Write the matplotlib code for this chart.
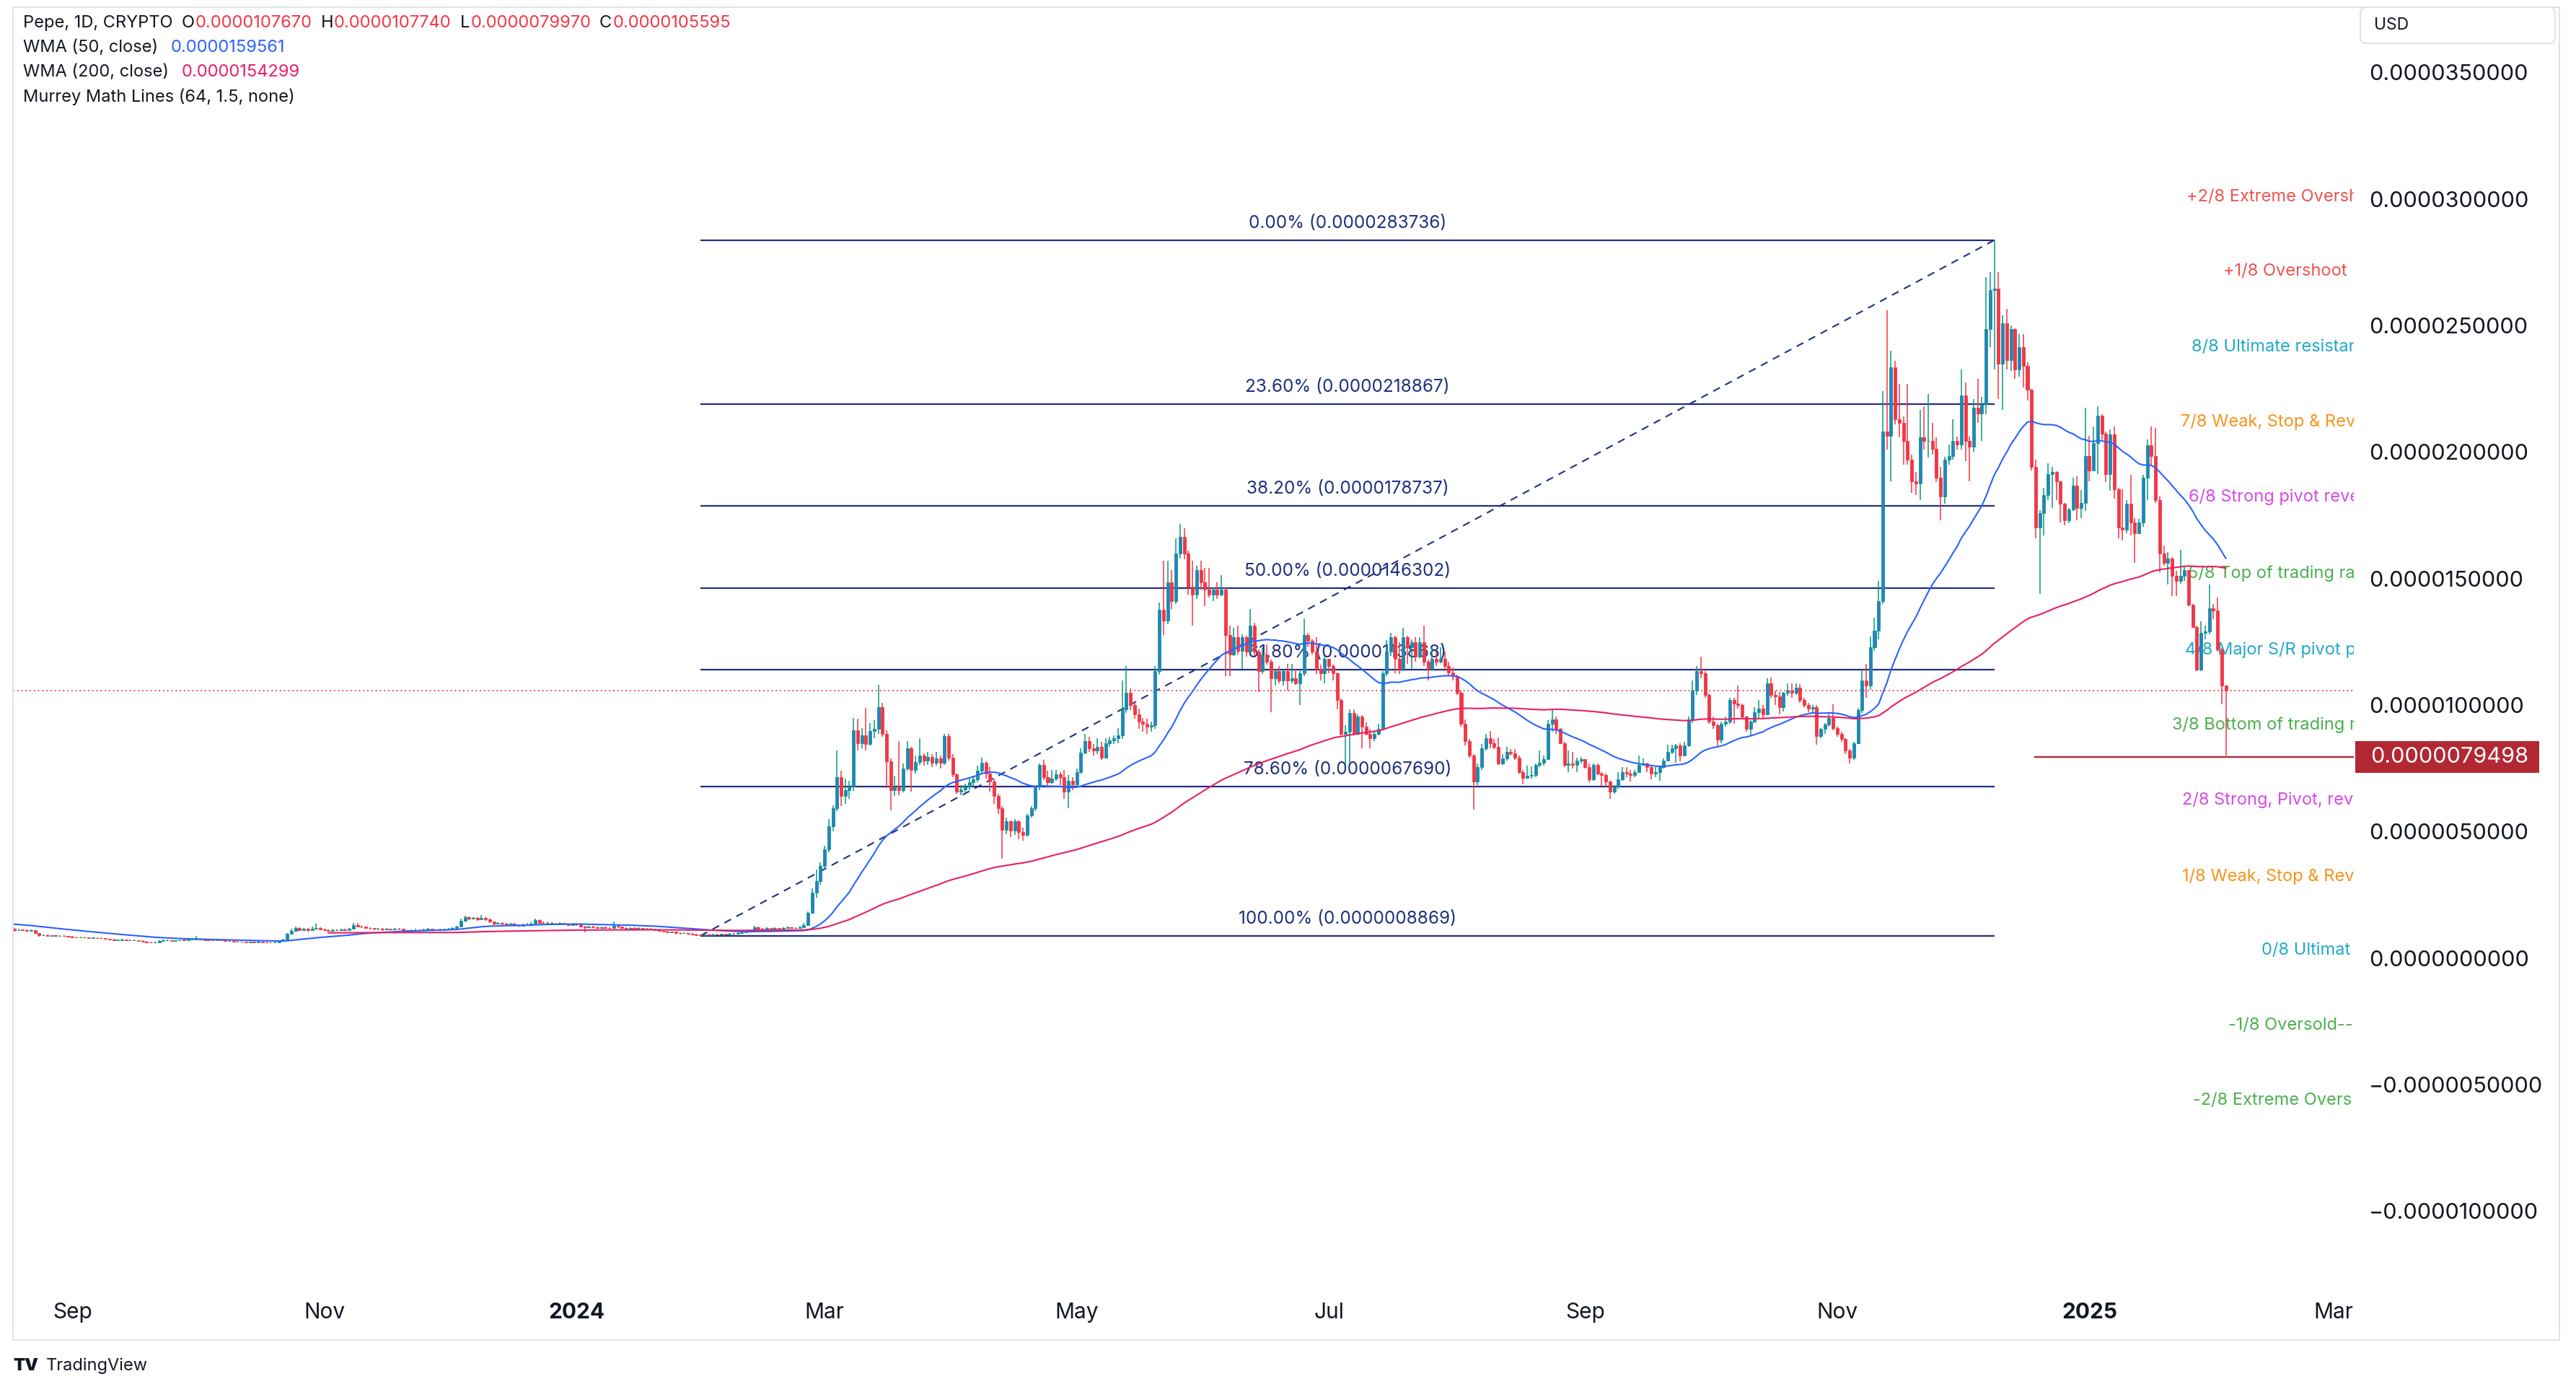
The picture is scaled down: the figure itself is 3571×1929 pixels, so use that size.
import matplotlib
matplotlib.use('Agg')
import matplotlib.pyplot as plt
import matplotlib.dates as mdates
from matplotlib.patches import Rectangle, FancyBboxPatch
from matplotlib.transforms import blended_transform_factory, IdentityTransform
import numpy as np
import pandas as pd

plt.rcParams['font.family'] = ['Inter', 'DejaVu Sans']

W, H = 3571, 1929
UNIT = 1e-7  # every price below is in units of 0.0000001 USD

# daily closes before the visible window (2023-04-17 .. 2023-08-17), they only feed the WMAs
pre_close = [
    1.0, 1.1, 1.3, 1.6, 1.5, 1.8, 2.0, 2.5, 2.9, 2.6, 3.2, 4.0, 4.8, 5.0,
    7.5, 9.0, 12.0, 22.0, 30.0, 26.0, 20.0, 18.0, 19.0, 16.0, 14.0, 15.0, 16.0, 15.0, 16.0, 15.5,
    15.0, 15.5, 14.5, 14.0, 13.5, 13.0, 13.5, 12.5, 12.0, 12.8, 13.0, 13.5, 13.0, 12.5, 12.0,
    11.8, 11.5, 11.8, 11.5, 10.5, 10.8, 10.0, 9.5, 8.5, 7.5, 7.8, 7.5, 7.2, 7.0, 6.8,
    7.2, 7.5, 7.8, 7.5, 8.0, 9.0, 9.5, 9.8, 10.0, 10.5, 10.8, 11.5, 12.0, 13.0, 14.5,
    16.5, 17.5, 18.0, 17.5, 17.0, 16.5, 16.0, 16.5, 16.2, 15.8, 16.0, 17.0, 17.5, 16.8, 16.5,
    16.8, 16.0, 15.8, 15.5, 15.2, 15.0, 14.8, 14.5, 14.0, 14.2, 14.5, 14.0, 13.8, 14.0, 14.2, 13.8,
    13.5, 13.2, 12.8, 13.0, 12.8, 12.5, 12.6, 12.8, 12.5, 12.2, 12.0, 12.2, 12.0, 11.8, 11.5, 11.5, 11.2,
]

# visible daily candles 2023-08-18 .. 2025-02-03, open = previous close
first_open = 11.5
close_ = [
    # Aug 2023 (18-31)
    11.0, 11.2, 11.1, 10.9, 11.0, 9.8, 9.0, 9.1, 8.9, 9.0, 8.8, 8.9, 8.7, 8.6,
    # Sep
    8.3, 8.2, 8.3, 8.1, 8.0, 8.0, 7.9, 7.8, 7.6, 7.4, 7.1, 7.2, 7.3, 7.1, 7.0,
    7.1, 6.9, 6.6, 6.3, 6.2, 6.3, 6.8, 7.0, 7.1, 6.9, 7.0, 7.2, 7.1, 7.3, 7.4,
    # Oct
    7.6, 7.3, 7.2, 7.1, 7.0, 7.1, 7.0, 6.9, 6.7, 6.6, 6.5, 6.4, 6.3, 6.4, 6.3,
    6.5, 6.3, 6.2, 6.1, 6.3, 6.8, 7.4, 9.6, 10.8, 11.8, 11.2, 11.5, 11.0, 11.6, 12.0, 11.4,
    # Nov
    11.1, 10.9, 11.2, 11.0, 11.4, 11.2, 11.6, 13.2, 12.6, 12.4, 12.0, 11.8, 11.5, 11.6, 11.3,
    11.5, 11.4, 11.7, 11.5, 11.0, 10.6, 11.0, 11.2, 11.0, 11.3, 11.5, 11.2, 11.0, 11.2, 11.4,
    # Dec
    11.6, 12.0, 12.4, 14.8, 16.2, 15.6, 15.9, 15.4, 16.0, 15.3, 14.4, 13.6, 13.9, 13.5, 13.2,
    13.6, 13.0, 12.8, 13.1, 13.4, 13.7, 15.0, 14.0, 13.8, 14.0, 13.6, 13.4, 13.8, 13.5, 13.2, 13.5,
    # Jan 2024
    13.3, 12.6, 12.1, 12.4, 12.2, 11.9, 12.3, 12.0, 11.8, 12.8, 12.4, 12.0, 11.7, 11.9, 11.6,
    11.8, 11.5, 11.7, 11.4, 11.0, 10.8, 10.5, 10.2, 10.4, 10.0, 9.8, 9.9, 9.6, 9.4, 9.2, 9.1,
    # Feb
    9.3, 9.2, 9.4, 9.3, 9.5, 9.4, 9.6, 9.5, 9.9, 10.3, 10.8, 11.0, 12.3, 11.6, 11.4,
    11.8, 11.5, 11.9, 11.6, 11.8, 12.1, 11.8, 12.0, 12.3, 13.2, 18.0, 26.0, 30.5, 36.4,
    # Mar
    43.1, 52.0, 59.2, 71.6, 64.0, 66.5, 67.8, 90.1, 85.0, 88.0, 84.5, 89.7, 90.5, 99.2, 88.7,
    77.8, 66.5, 67.8, 66.5, 75.0, 83.0, 74.5, 77.5, 80.2, 78.0, 79.5, 77.3, 79.0, 77.3, 87.8, 79.2,
    # Apr
    72.6, 65.9, 66.8, 67.8, 69.5, 70.6, 74.0, 77.3, 73.0, 69.7, 64.0, 59.2, 50.7, 54.0, 50.5,
    54.0, 49.8, 48.8, 56.4, 59.2, 67.8, 76.3, 71.6, 69.5, 71.0, 72.6, 71.5, 65.9, 70.0, 68.7,
    # May
    73.5, 81.1, 85.9, 83.0, 82.0, 83.5, 79.2, 84.9, 86.0, 86.8, 88.0, 98.2, 104.9, 100.1, 96.3,
    93.5, 92.5, 91.6, 92.0, 113.4, 137.6, 133.4, 148.6, 141.0, 160.0, 166.6, 160.0, 146.7, 143.8, 153.3, 148.6,
    # Jun
    145.7, 143.8, 145.7, 143.8, 145.7, 127.7, 120.0, 126.7, 121.5, 126.7, 121.0, 131.5, 121.0, 113.4, 120.0,
    117.2, 110.6, 113.4, 109.6, 113.4, 109.6, 110.5, 108.7, 112.5, 127.7, 125.3, 121.0, 114.4, 112.5, 118.2,
    # Jul
    115.3, 112.5, 102.0, 88.7, 89.5, 96.8, 88.7, 95.4, 91.5, 88.7, 86.8, 88.7, 90.6, 112.5, 121.0,
    126.7, 118.2, 114.4, 126.7, 122.9, 124.8, 119.1, 124.8, 117.2, 114.4, 118.2, 117.2, 118.2, 115.3, 113.0, 111.5,
    # Aug
    104.9, 92.5, 85.8, 80.1, 69.7, 75.4, 83.0, 86.8, 84.9, 83.5, 76.8, 79.0, 81.6, 81.0, 79.2,
    73.5, 71.1, 72.0, 72.5, 76.3, 77.3, 78.7, 92.5, 94.4, 90.6, 84.9, 76.3, 76.8, 76.5, 78.2, 78.7,
    # Sep
    75.4, 70.6, 76.3, 73.0, 72.5, 69.7, 65.9, 67.8, 70.6, 73.5, 73.0, 72.5, 73.5, 76.3, 76.8,
    75.4, 73.0, 73.5, 75.4, 78.2, 81.6, 83.0, 84.0, 80.2, 84.0, 94.4, 105.8, 113.4, 112.5, 104.0,
    # Oct
    93.5, 92.0, 86.3, 92.5, 93.5, 102.0, 100.5, 100.1, 95.4, 90.6, 93.5, 97.3, 98.7, 96.3, 108.7,
    104.0, 103.5, 99.2, 104.9, 105.8, 104.9, 106.8, 102.0, 100.1, 98.7, 99.2, 87.8, 90.6, 92.3, 95.0, 90.8,
    # Nov
    88.6, 86.5, 82.0, 79.2, 85.0, 98.0, 109.7, 107.6, 122.8, 129.4, 141.0, 208.0, 206.5, 233.4, 213.0,
    211.6, 204.3, 197.0, 188.3, 187.6, 205.8, 204.3, 204.3, 201.4, 189.8, 182.5, 197.0, 198.5, 204.3, 203.0,
    # Dec
    222.5, 204.3, 202.0, 217.4, 215.2, 219.0, 248.7, 264.0, 264.7, 234.9, 250.9, 236.3, 248.5, 232.7, 241.4,
    234.1, 224.7, 194.1, 170.1, 176.0, 183.0, 191.2, 192.0, 188.3, 179.6, 173.0, 177.4, 186.8, 178.0, 180.0, 198.5,
    # Jan 2025
    192.7, 203.6, 214.5, 207.2, 191.2, 207.0, 185.4, 170.1, 169.4, 179.6, 172.3, 168.0, 172.3, 189.8, 202.8,
    198.5, 181.0, 160.0, 156.3, 157.8, 151.2, 149.0, 151.0, 153.4, 139.6, 130.8, 114.1, 128.6, 129.0, 138.1, 137.5,
    # Feb 1-3
    122.1, 107.67, 105.595,
]
high_ = [
    11.8, 11.5, 11.4, 11.3, 11.3, 11.1, 9.9, 9.4, 9.3, 9.2, 9.1, 9.2, 9.0, 8.9,
    8.7, 8.5, 8.5, 8.4, 8.3, 8.2, 8.2, 8.1, 7.9, 7.7, 7.5, 7.4, 7.5, 7.4, 7.3,
    7.3, 7.2, 7.0, 6.7, 6.5, 6.5, 7.0, 7.3, 7.3, 7.2, 7.2, 7.4, 7.3, 7.5, 7.6,
    8.9, 7.7, 7.4, 7.3, 7.3, 7.3, 7.2, 7.1, 7.0, 6.8, 6.7, 6.6, 6.5, 6.6, 6.5,
    6.7, 6.6, 6.4, 6.3, 6.5, 7.0, 7.7, 10.0, 11.5, 12.5, 12.2, 12.0, 11.8, 12.4, 13.6, 12.3,
    11.7, 11.4, 11.5, 11.4, 11.7, 11.6, 12.0, 14.0, 13.9, 12.9, 12.6, 12.3, 12.0, 11.9, 11.8,
    11.8, 11.7, 12.0, 11.9, 11.6, 11.1, 11.3, 11.5, 11.4, 11.6, 11.8, 11.7, 11.4, 11.5, 11.7,
    12.0, 12.3, 12.8, 15.5, 16.8, 16.5, 16.3, 16.1, 17.1, 16.2, 15.5, 14.6, 14.3, 14.1, 13.8,
    14.0, 13.8, 13.3, 13.5, 13.8, 14.2, 15.6, 15.2, 14.4, 14.5, 14.2, 13.9, 14.1, 14.0, 13.7, 13.8,
    13.9, 13.5, 12.8, 12.8, 12.7, 12.4, 12.6, 12.5, 12.2, 14.6, 13.2, 12.6, 12.2, 12.3, 12.1,
    12.1, 11.9, 12.0, 11.8, 11.5, 11.2, 10.9, 10.7, 10.6, 10.5, 10.2, 10.2, 10.0, 9.8, 9.6, 9.4,
    9.5, 9.5, 9.6, 9.6, 9.7, 9.7, 9.8, 9.8, 10.2, 10.6, 11.1, 11.3, 12.8, 12.5, 11.9,
    12.1, 12.0, 12.2, 12.0, 12.2, 12.4, 12.3, 12.3, 12.7, 13.8, 18.6, 27.5, 35.0, 38.0,
    44.5, 55, 60.5, 82, 74, 71, 70, 94.9, 94.5, 91, 99, 93, 94, 107.9, 101,
    90, 79, 72, 85.9, 77, 85.9, 83.5, 80, 86.8, 81, 81.5, 80.5, 81.5, 80, 88.5, 88.5,
    80.5, 73, 68.5, 69, 71, 72, 76, 79.2, 77.8, 75.4, 71, 65, 60, 55.5, 54.5,
    55, 54.5, 51.6, 57, 60, 68, 77, 78.3, 74, 74.5, 74.5, 73.5, 74.5, 72.5, 71.5,
    75, 83, 88.7, 87.5, 84.5, 86.8, 85.5, 86.8, 87.5, 88, 91, 109.6, 115.3, 106.5, 101.5,
    98.5, 95, 94.5, 93.5, 115.5, 140.5, 157, 157, 153.3, 165.8, 171.6, 170, 161, 157, 155, 157,
    154.3, 154.3, 146.5, 148.6, 151.4, 146.5, 131.5, 130.5, 131.5, 128, 127.5, 138, 132.4, 122, 122.9,
    123.9, 118, 114.4, 115.3, 114, 116.3, 116.3, 114.4, 113.5, 134.3, 128.5, 126, 126.7, 116, 119.1,
    118.2, 116, 113, 102.5, 92, 98.2, 98.2, 96.3, 96, 93.3, 90.6, 89.5, 92.5, 113.4, 125.8,
    128.6, 127.5, 124.8, 130.5, 127.5, 126, 126.7, 126.7, 131.5, 118, 122.9, 121, 122.9, 121, 117.2, 115,
    112, 105.8, 94.4, 86.5, 80.5, 77, 84.5, 88.7, 89.7, 86.5, 87.3, 80.5, 83.5, 82.5, 82.5,
    80, 74.4, 76, 75.8, 77, 82, 80, 94, 98.2, 95.5, 91, 85.5, 82, 81.6, 79.2, 79.5,
    78.2, 76.8, 77, 77, 73.5, 73, 70, 68.5, 73.5, 75.4, 75.4, 74.5, 74.5, 80.1, 79,
    77.3, 76, 75.4, 76, 79, 84.4, 84.4, 84.5, 85, 85.5, 95.5, 109.6, 115.3, 119.1, 113.5,
    104.5, 95.4, 92.5, 93.5, 95.4, 103, 103, 107.7, 100.5, 95.8, 94, 99.2, 102, 100, 110.6,
    111, 105.8, 105.3, 105.3, 108.7, 108.7, 108.7, 108.2, 103, 101, 100, 100, 91, 93, 96.5, 100.3,
    91.5, 89.5, 87, 82.5, 85.5, 99, 114, 116.4, 127, 134.5, 149, 224, 256, 240, 236,
    226.9, 214, 226.9, 199, 192, 216.7, 218, 223, 211.6, 205.8, 194, 198, 203, 213, 206,
    232.7, 227.6, 206, 221, 229, 221.8, 269, 271, 283.736, 271, 254, 256.7, 250, 249, 246.5,
    246.5, 235.6, 225, 197, 177, 186, 195.6, 194, 192.5, 185.4, 180, 178, 189.8, 190.5, 185, 217.4,
    206.5, 210, 218.1, 215, 208, 209, 210, 186, 185.4, 181, 191, 174, 173.5, 191, 205,
    210, 209.5, 182.5, 163, 160.5, 158.5, 153, 161.4, 155, 153.4, 140, 131.5, 133, 131.5, 147.6, 140,
    142.5, 122.5, 107.74,
]
low_ = [
    10.6, 10.8, 10.8, 10.6, 10.7, 9.5, 8.6, 8.8, 8.6, 8.7, 8.5, 8.6, 8.4, 8.3,
    8.1, 8.0, 8.1, 7.9, 7.8, 7.8, 7.7, 7.6, 7.4, 7.1, 6.9, 6.9, 7.0, 6.9, 6.8,
    6.9, 6.7, 6.4, 6.1, 6.0, 6.0, 6.2, 6.7, 6.8, 6.7, 6.8, 6.9, 6.9, 7.0, 7.1,
    7.3, 7.1, 7.0, 6.9, 6.8, 6.9, 6.8, 6.7, 6.5, 6.4, 6.3, 6.2, 6.1, 6.2, 6.1,
    6.2, 6.1, 6.0, 5.9, 6.0, 6.2, 6.7, 7.3, 9.4, 10.5, 10.8, 10.9, 10.6, 10.8, 11.3, 11.0,
    10.7, 10.6, 10.7, 10.7, 10.8, 10.9, 11.0, 11.5, 12.1, 11.9, 11.6, 11.4, 11.1, 11.2, 10.9,
    11.1, 11.0, 11.2, 11.1, 10.6, 10.2, 10.5, 10.8, 10.7, 10.9, 11.1, 10.9, 10.7, 10.9, 11.0,
    11.2, 11.5, 11.9, 12.2, 14.5, 15.0, 15.2, 14.9, 15.2, 14.8, 13.9, 13.1, 13.3, 13.0, 12.8,
    13.0, 12.6, 12.4, 12.6, 12.9, 13.2, 13.5, 13.6, 13.3, 13.5, 13.2, 13.0, 13.2, 13.1, 12.8, 13.0,
    12.9, 12.2, 10.3, 11.8, 11.8, 11.5, 11.7, 11.6, 11.4, 11.7, 11.9, 11.6, 11.3, 11.4, 11.2,
    11.3, 11.1, 11.2, 11.0, 10.7, 10.4, 10.1, 9.8, 9.9, 9.6, 9.4, 9.5, 9.3, 9.1, 9.0, 8.869,
    9.0, 8.9, 9.1, 9.0, 9.2, 9.1, 9.2, 9.2, 9.4, 9.8, 10.2, 10.6, 10.9, 11.2, 11.0,
    11.2, 11.1, 11.3, 11.2, 11.4, 11.6, 11.5, 11.6, 11.8, 12.1, 13.0, 17.5, 24.0, 29.0,
    35, 42, 50, 58, 60, 61, 63, 66, 82, 83, 82, 84, 87, 88.5, 87.5,
    67.3, 58.3, 64, 64.5, 65.5, 74, 65.9, 73, 76.5, 76, 76.5, 75.5, 76, 75, 76.5, 78,
    71.5, 65, 64.5, 65.5, 66.5, 68, 69.5, 73, 71, 65.9, 61, 57, 39.3, 49, 47.8,
    48.8, 46.9, 46.4, 48, 55.5, 58, 66.5, 70.5, 68.5, 69, 70, 68.5, 63, 59.2, 66.5,
    67.5, 73, 80.5, 81.5, 80, 80.5, 78.5, 78.8, 83.5, 84.5, 85, 86.5, 97, 98, 94.5,
    90.6, 89.5, 88.7, 89.5, 90.5, 112, 127.7, 132, 138, 140, 158, 157.5, 143.8, 131.5, 142, 145.7,
    139, 142.5, 141, 141.9, 143, 111.5, 111.5, 119.5, 120, 114.4, 119, 120.5, 119.5, 105.3, 112.4,
    116, 97.3, 107.7, 108.5, 107.7, 105.8, 108.5, 108, 100, 111.5, 123, 120, 112.4, 109.6, 108.7,
    112.5, 109.6, 98.2, 88, 76.3, 77.3, 88, 88, 83, 88, 83, 85.8, 88, 90, 111.5,
    119.5, 112.5, 112.4, 113.5, 116.3, 114.4, 117.2, 118.5, 115.3, 109.6, 114.4, 115.3, 116.5, 113.4, 111.5, 109.6,
    104, 91.5, 84, 79.2, 58.7, 68.5, 74.5, 82, 83, 82.5, 76.3, 76.3, 78, 80, 78.5,
    73, 68.7, 71, 71, 71.5, 75.5, 76, 78.5, 89.5, 88.7, 84.5, 75.5, 73.5, 75, 73.5, 77,
    74.8, 69.5, 70, 72.5, 68.2, 67.8, 63, 65, 67, 70, 71.5, 69.7, 71.5, 73.5, 76.3,
    73.5, 70.6, 71.5, 70.2, 75, 78, 80.5, 77.3, 77.8, 82.5, 83.5, 93, 104, 110.5, 103,
    92.5, 90.5, 83.5, 85, 91.5, 92.5, 92.5, 98.5, 94.5, 89.5, 87.8, 93, 94.5, 94.5, 96,
    103, 100.1, 96.3, 97.5, 103.8, 103, 104, 101, 99.2, 97.3, 96.5, 84.4, 86.8, 88.7, 91.5, 90,
    87.5, 85.5, 80.5, 77, 78.5, 84.5, 97, 103, 106, 121.5, 126, 140, 201, 188.3, 211,
    205.8, 195, 194.9, 184, 183, 181, 201, 197.8, 199, 188, 173, 179.6, 195, 197, 201,
    201, 196.3, 188.3, 200, 211.6, 204.3, 215, 241.4, 232.7, 221, 216.7, 232.7, 232, 229, 229.8,
    225.4, 220.3, 192.7, 165.8, 144, 167, 181, 178, 181, 172.3, 171, 172, 176.7, 173, 174, 176.7,
    188.3, 192.7, 191.2, 205, 188, 184.7, 181.6, 166, 165, 168, 167, 156.3, 167.5, 170.5, 181,
    195, 180, 152.5, 155, 147.6, 143, 143, 148, 149, 139, 130.5, 113.5, 113.5, 126, 128, 134,
    121, 100.3, 79.97,
]
assert len(close_) == len(high_) == len(low_) == 536, (len(close_), len(high_), len(low_))

# Fibonacci retracement drawn by hand
fib_dates = ['2024-01-31', '2024-12-09']
fib_levels = [0.0, 0.236, 0.382, 0.5, 0.618, 0.786, 1.0]
fib_prices = [283.736, 218.867, 178.737, 146.302, 113.868, 67.690, 8.869]

# Murrey Math Lines labels as far as they show before the pane edge
murrey_labels = ['+2/8 Extreme Oversh', '+1/8 Overshoot', '8/8 Ultimate resistan',
                 '7/8 Weak, Stop & Rev', '6/8 Strong pivot reve', '5/8 Top of trading ra',
                 '4/8 Major S/R pivot p', '3/8 Bottom of trading r', '2/8 Strong, Pivot, rev',
                 '1/8 Weak, Stop & Rev', '0/8 Ultimat', '-1/8 Oversold--',
                 '-2/8 Extreme Overs']
murrey_prices = [300.7, 271.5, 241.6, 211.9, 182.3, 152.0, 121.9, 92.2, 62.4, 32.1, 3.2, -26.6, -56.2]

legend_ohlc = [107.670, 107.740, 79.970, 105.595]
wma50_value = 159.561
wma200_value = 154.299
support_price = 79.498

x_tick_dates = ['2023-09-01', '2023-11-01', '2024-01-01', '2024-03-01', '2024-05-01',
                '2024-07-01', '2024-09-01', '2024-11-01', '2025-01-01', '2025-03-01']
x_tick_labels = ['Sep', 'Nov', '2024', 'Mar', 'May', 'Jul', 'Sep', 'Nov', '2025', 'Mar']
y_ticks = [-100, -50, 0, 50, 100, 150, 200, 250, 300, 350]

INK = '#131722'
UP_BODY, UP_EDGE, DOWN = '#2a7fc6', '#089981', '#f23645'
FIB = '#1f2f7e'
RED_M, CYAN, ORANGE, MAGENTA, GREEN = '#ef5350', '#22a9c9', '#f7931a', '#d64ae8', '#4caf50'
murrey_colors = [RED_M, RED_M, CYAN, ORANGE, MAGENTA, GREEN, CYAN, GREEN, MAGENTA, ORANGE, CYAN, GREEN, GREEN]


def wma(vals, n):
    w = np.arange(1, n + 1)
    out = np.full(len(vals), np.nan)
    for i in range(n - 1, len(vals)):
        out[i] = np.dot(vals[i - n + 1:i + 1], w) / w.sum()
    return out


dates = pd.date_range('2023-08-18', periods=len(close_), freq='D')
x = mdates.date2num(dates)
c = np.array(close_)
o = np.r_[first_open, c[:-1]]
h = np.maximum(np.array(high_), np.maximum(o, c))
l = np.minimum(np.array(low_), np.minimum(o, c))
up = c >= o

allc = np.r_[pre_close, c]
wma50 = wma(allc, 50)[len(pre_close):]
wma200 = wma(allc, 200)[len(pre_close):]

fig = plt.figure(figsize=(W / 100, H / 100), dpi=100)
fig.patch.set_facecolor('white')
ax = fig.add_axes([18 / W, 1 - 1783 / H, (3263 - 18) / W, (1783 - 12) / H])
ax.set_facecolor('white')

base = mdates.date2num(pd.Timestamp('2023-09-01'))
x_left, x_right = base - 14.35, base + 551.97
ax.set_xlim(x_left, x_right)
ax.set_ylim(-129.8 * UNIT, 375.2 * UNIT)

# current price line
ax.axhline(legend_ohlc[3] * UNIT, color=DOWN, lw=1.3, ls=(0, (1, 2.2)), zorder=1)

# fib retracement
fx0, fx1 = mdates.date2num(pd.to_datetime(fib_dates))
for lvl, p in zip(fib_levels, fib_prices):
    ax.hlines(p * UNIT, fx0, fx1, color=FIB, lw=1.6, zorder=2)
    ax.annotate(f"{lvl * 100:.2f}% ({p * UNIT:.10f})", xy=((fx0 + fx1) / 2, p * UNIT),
                xytext=(0, 17), textcoords='offset points', ha='center', va='center',
                fontsize=17.5, color=FIB, zorder=2)
ax.plot([fx0, fx1], [fib_prices[-1] * UNIT, fib_prices[0] * UNIT], color=FIB, lw=1.5,
        ls=(0, (5, 4)), zorder=2)

# murrey labels, clipped by the pane edge
murrey_start = [511.5, 520.3, 512.7, 510.1, 512.0, 511.8, 511.1, 508.0, 510.5, 510.4, 529.6, 521.6, 513.1]
for s, p, col, d in zip(murrey_labels, murrey_prices, murrey_colors, murrey_start):
    ax.text(base + d, p * UNIT, s, color=col, fontsize=17, ha='left', va='center',
            clip_on=True, zorder=2)

# support line
ax.hlines(support_price * UNIT, base + 474.6, x_right, color='#b22833', lw=1.7, zorder=2)

# candles
ax.vlines(x, l * UNIT, h * UNIT, colors=np.where(up, UP_EDGE, DOWN), linewidth=1.1, zorder=3)
body_lo = np.minimum(o, c)
body_h = np.maximum(np.abs(c - o), 0.12)
ax.bar(x, body_h * UNIT, bottom=body_lo * UNIT, width=0.7,
       color=np.where(up, UP_BODY, DOWN), edgecolor=np.where(up, UP_EDGE, DOWN),
       linewidth=0.6, zorder=4)

# moving averages
ax.plot(x, wma50 * UNIT, color='#2962ff', lw=1.5, zorder=5)
ax.plot(x, wma200 * UNIT, color='#e91e63', lw=1.5, zorder=5)

for sp in ax.spines.values():
    sp.set_visible(False)

ax.yaxis.tick_right()
ax.set_yticks([v * UNIT for v in y_ticks])
ax.set_yticklabels([f"{v * UNIT:.10f}".replace('-', '\u2212') for v in y_ticks])
ax.tick_params(axis='y', length=0, pad=15, labelsize=22, labelcolor=INK)
ax.set_xticks(mdates.date2num(pd.to_datetime(x_tick_dates)))
ax.set_xticklabels(x_tick_labels)
ax.tick_params(axis='x', length=0, pad=16, labelsize=21.5, labelcolor=INK)
for lab in ax.get_xticklabels():
    if lab.get_text().isdigit():
        lab.set_fontweight('bold')

# outer frame
fig.add_artist(Rectangle((18, H - 1857), 3548 - 18, 1857 - 10, transform=IdentityTransform(),
                         fill=False, edgecolor='#e0e3eb', lw=1.5))

# USD box
fig.add_artist(FancyBboxPatch((3272, H - 60), 270, 50, boxstyle='round,pad=0,rounding_size=8',
                              transform=IdentityTransform(), facecolor='white',
                              edgecolor='#e0e3eb', lw=1.5))
fig.text(3291 / W, 1 - 35 / H, 'USD', fontsize=16.5, color=INK, ha='left', va='center')

# support price tag on the price scale
tr = blended_transform_factory(IdentityTransform(), ax.transData)
ax.add_patch(Rectangle((3265, (support_price - 6.4) * UNIT), 255, 12.8 * UNIT, transform=tr,
                       facecolor='#b22833', edgecolor='none', clip_on=False, zorder=6))
ax.text(3286, support_price * UNIT, f"{support_price * UNIT:.10f}", transform=tr, color='white',
        fontsize=22, ha='left', va='center', zorder=7)

# legend rows
r = fig.canvas.get_renderer()


def run(y, parts, x0=32, size=17):
    xx = x0
    for s, col, gap in parts:
        t = fig.text(xx / W, 1 - y / H, s, color=col, fontsize=size, ha='left', va='center')
        xx = t.get_window_extent(r).x1 + gap


fmt = lambda v: f"{v * UNIT:.10f}"
run(32, [('Pepe, 1D, CRYPTO', INK, 12),
         ('O', INK, 1), (fmt(legend_ohlc[0]), DOWN, 12),
         ('H', INK, 1), (fmt(legend_ohlc[1]), DOWN, 12),
         ('L', INK, 1), (fmt(legend_ohlc[2]), DOWN, 12),
         ('C', INK, 1), (fmt(legend_ohlc[3]), DOWN, 0)])
run(66, [('WMA (50, close)', INK, 18), (fmt(wma50_value), '#2962ff', 0)])
run(100, [('WMA (200, close)', INK, 18), (fmt(wma200_value), '#e91e63', 0)])
run(134, [('Murrey Math Lines (64, 1.5, none)', INK, 0)])

# footer
fig.text(18 / W, 1 - 1893 / H, 'TV', fontsize=17, fontweight='black', color=INK, ha='left', va='center')
fig.text(64 / W, 1 - 1893 / H, 'TradingView', fontsize=17, color=INK, ha='left', va='center')

fig.savefig('out.png', dpi=100)
